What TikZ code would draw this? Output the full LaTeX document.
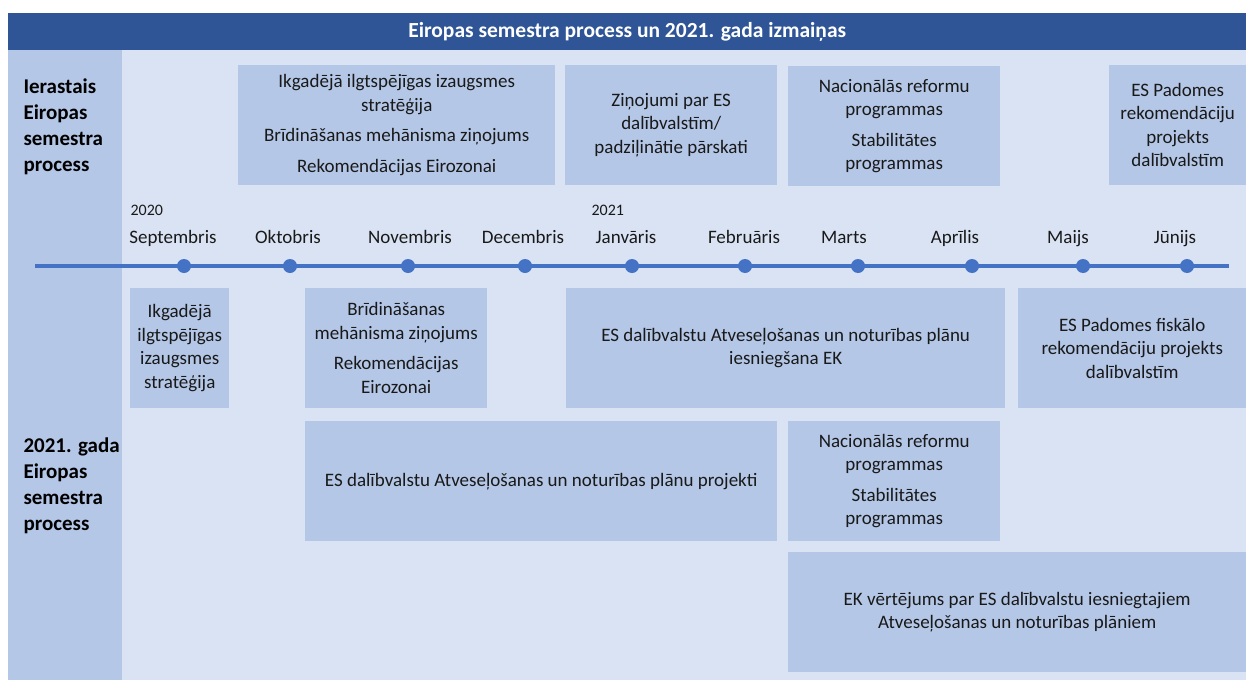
\documentclass[tikz,border=0pt]{standalone}
\usepackage{fontspec}
\setmainfont{Carlito}
\usetikzlibrary{positioning}
\definecolor{virsrakstaZils}{RGB}{47,85,151}
\definecolor{fonaZils}{RGB}{218,227,243}
\definecolor{kastesZils}{RGB}{180,199,231}
\definecolor{laikaZils}{RGB}{68,114,196}
\tikzset{
  kaste/.style={rectangle, fill=kastesZils, anchor=north west, inner sep=0pt,
                minimum height=120, align=center, text=black!90,
                font=\fontsize{19}{23.5}\selectfont},
  rinda/.style={anchor=west, align=left, font=\fontsize{21}{26}\selectfont\bfseries},
  punkts/.style={circle, fill=laikaZils, minimum size=14, inner sep=0pt},
  menesis/.style={anchor=base, font=\fontsize{19}{23}\selectfont, text=black!90},
  gads/.style={anchor=base west, font=\fontsize{16}{19}\selectfont, text=black!90},
}

\begin{document}
\begin{tikzpicture}[x=1pt, y=-1pt]
  \useasboundingbox (0,0) rectangle (1246,680);
  % fons un kreisā josla
  \fill[fonaZils] (8,50) rectangle (1246,680);
  \fill[kastesZils] (8,50) rectangle (122,680);
  \node[fill=virsrakstaZils, anchor=north west, minimum width=1238, minimum height=37,
        inner sep=0pt, text=white, font=\fontsize{21.5}{25}\selectfont\bfseries]
    (galva) at (8,13) {Eiropas semestra process un 2021. gada izmaiņas};
  \node[rinda] (ierastais) at (20,127) {Ierastais\\Eiropas\\semestra\\process};
  \node[rinda] (jaunais) at (20,486) {2021. gada\\Eiropas\\semestra\\process};

  % laika ass
  \coordinate (asSak) at (35,266);
  \coordinate (asBeig) at (1229,266);
  \draw[laikaZils, line width=3.5] (asSak) -- (asBeig);
  \foreach \x [count=\i] in {184,290,408,525,632,745,858,972,1083,1187}
    \node[punkts] (p\i) at (\x,266) {};
  \foreach \x/\m in {173/Septembris, 288/Oktobris, 410/Novembris, 523/Decembris,
                     626/Janvāris, 744/Februāris, 844/Marts, 955/Aprīlis,
                     1068/Maijs, 1175/Jūnijs}
    \node[menesis] at (\x,243) {\m};
  \node[gads] (g2020) at (127,215) {2020};
  \node[gads] (g2021) at (588,215) {2021};

  % ierastais process
  \node[kaste, minimum width=317] (strat) at (238,65)
    {Ikgadējā ilgtspējīgas izaugsmes\\stratēģija\\[7pt]Brīdināšanas mehānisma ziņojums\\[7pt]Rekomendācijas Eirozonai};
  \node[kaste, minimum width=212] (zinojumi) at (565,65)
    {Ziņojumi par ES\\dalībvalstīm/\\padziļinātie pārskati};
  \node[kaste, minimum width=212] (nacref) at (788,66)
    {Nacionālās reformu\\programmas\\[7pt]Stabilitātes\\programmas};
  \node[kaste, minimum width=137] (padome) at (1109,65)
    {ES Padomes\\rekomendāciju\\projekts\\dalībvalstīm};

  % 2021. gada process
  \node[kaste, minimum width=99] (strat2) at (130,288)
    {Ikgadējā\\ilgtspējīgas\\izaugsmes\\stratēģija};
  \node[kaste, minimum width=182] (brid2) at (305,288)
    {Brīdināšanas\\mehānisma ziņojums\\[7pt]Rekomendācijas\\Eirozonai};
  \node[kaste, minimum width=439] (iesn) at (566,288)
    {ES dalībvalstu Atveseļošanas un noturības plānu\\iesniegšana EK};
  \node[kaste, minimum width=228] (fisk) at (1018,288)
    {ES Padomes fiskālo\\rekomendāciju projekts\\dalībvalstīm};
  \node[kaste, minimum width=472] (projekti) at (305,421)
    {ES dalībvalstu Atveseļošanas un noturības plānu projekti};
  \node[kaste, minimum width=212] (nacref2) at (788,421)
    {Nacionālās reformu\\programmas\\[7pt]Stabilitātes\\programmas};
  \node[kaste, minimum width=458] (vertejums) at (788,552)
    {EK vērtējums par ES dalībvalstu iesniegtajiem\\Atveseļošanas un noturības plāniem};
\end{tikzpicture}
\end{document}
